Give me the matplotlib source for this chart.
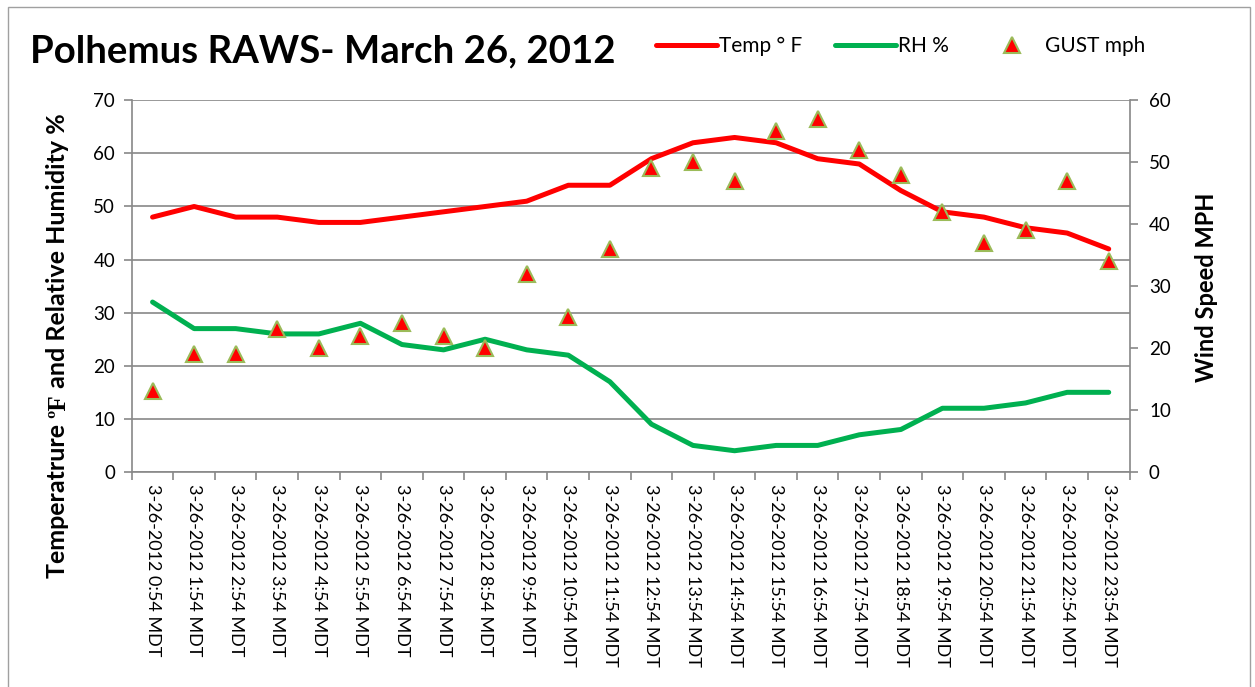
import matplotlib
matplotlib.use("Agg")
import matplotlib.pyplot as plt
from matplotlib.lines import Line2D
from matplotlib.patches import Rectangle

hours = ["0:54", "1:54", "2:54", "3:54", "4:54", "5:54", "6:54", "7:54", "8:54",
         "9:54", "10:54", "11:54", "12:54", "13:54", "14:54", "15:54", "16:54",
         "17:54", "18:54", "19:54", "20:54", "21:54", "22:54", "23:54"]
labels = ["3-26-2012 %s MDT" % h for h in hours]
temp = [48, 50, 48, 48, 47, 47, 48, 49, 50, 51, 54, 54, 59, 62, 63, 62, 59, 58,
        53, 49, 48, 46, 45, 42]
rh = [32, 27, 27, 26, 26, 28, 24, 23, 25, 23, 22, 17, 9, 5, 4, 5, 5, 7, 8, 12,
      12, 13, 15, 15]
gust = [13, 19, 19, 23, 20, 22, 24, 22, 20, 32, 25, 36, 49, 50, 47, 55, 57, 52,
        48, 42, 37, 39, 47, 34]
left_ticks = [0, 10, 20, 30, 40, 50, 60, 70]
right_ticks = [0, 10, 20, 30, 40, 50, 60]

plt.rcParams['font.family'] = ['Lato', 'DejaVu Sans']

fig = plt.figure(figsize=(12.55, 6.87), dpi=100)
fig.patches.append(Rectangle((0.006, -0.01), 0.99, 1.0, transform=fig.transFigure,
                             fill=False, edgecolor='#a0a0a0', linewidth=1.0))
ax = fig.add_axes([0.105, 0.313, 0.795, 0.541])
ax2 = ax.twinx()

x = list(range(len(labels)))
ax.plot(x, temp, color='#ff0000', lw=3.6, solid_capstyle='round', zorder=3)
ax.plot(x, rh, color='#00b050', lw=3.6, solid_capstyle='round', zorder=3)
ax2.plot(x, gust, linestyle='none', marker='^', markersize=11,
         markerfacecolor='#ff0000', markeredgecolor='#9bbb59', markeredgewidth=1.5,
         zorder=4)

ax.set_xlim(-0.5, len(labels) - 0.5)
ax.set_ylim(0, 70)
ax2.set_ylim(0, 60)
ax.set_yticks(left_ticks)
ax2.set_yticks(right_ticks)
ax.yaxis.grid(True, color='#888888', lw=1.2)
ax.set_axisbelow(True)

ax.set_xticks([i - 0.5 for i in range(len(labels) + 1)])
ax.set_xticklabels([])
ax.set_xticks(x, minor=True)
ax.set_xticklabels(labels, minor=True, rotation=270, fontsize=13)
ax.tick_params(axis='x', which='major', length=6, color='#888888', width=1.2)
ax.tick_params(axis='x', which='minor', length=0, pad=9)
ax.tick_params(axis='y', length=6, color='#888888', width=1.2, labelsize=13.5, pad=6)
ax2.tick_params(axis='y', length=6, color='#888888', width=1.2, labelsize=13.5, pad=8)

for a in (ax, ax2):
    for s in a.spines.values():
        s.set_visible(False)
for a, side in ((ax, 'left'), (ax, 'bottom'), (ax2, 'right')):
    a.spines[side].set_visible(True)
    a.spines[side].set_color('#888888')
    a.spines[side].set_linewidth(1.2)

# right axis label
fig.text(1207 / 1255, 1 - 287 / 687, "Wind Speed MPH", rotation=90, fontsize=17,
         fontweight='bold', ha='center', va='center')

# left axis label built from pieces (serif degree-F in the middle)
pieces = [("Temperatrure ", 'Lato'), ("\u00baF", 'Liberation Serif'),
          (" and Relative Humidity %", 'Lato')]
xb = 65 / 1255
W, H = 1255, 687
fig.canvas.draw()
renderer = fig.canvas.get_renderer()
texts = []
for s, fam in pieces:
    t = fig.text(xb, 0.5, s, rotation=90, fontsize=18, fontweight='bold',
                 family=fam, ha='left', va='baseline', rotation_mode='anchor')
    texts.append(t)
lengths = [t.get_window_extent(renderer).height for t in texts]
total = sum(lengths)
cur = (H - 346) - total / 2
for t, L in zip(texts, lengths):
    t.set_position((xb, cur / H))
    cur += L

fig.text(0.024, 0.925, "Polhemus RAWS- March 26, 2012", fontsize=27.6,
         fontweight='bold', va='center', ha='left')

handles = [Line2D([], [], color='#ff0000', lw=3.6, solid_capstyle='round'),
           Line2D([], [], color='#00b050', lw=3.6, solid_capstyle='round'),
           Line2D([], [], linestyle='none', marker='^', markersize=11,
                  markerfacecolor='#ff0000', markeredgecolor='#9bbb59',
                  markeredgewidth=1.5)]
fig.legend(handles, ["Temp \u00b0 F", "RH %", "GUST mph"], loc='center left',
           bbox_to_anchor=(0.508, 0.933), ncol=3, frameon=False, fontsize=15,
           handlelength=2.9, handletextpad=0.1, columnspacing=1.6)

fig.savefig("out.png", dpi=100)
